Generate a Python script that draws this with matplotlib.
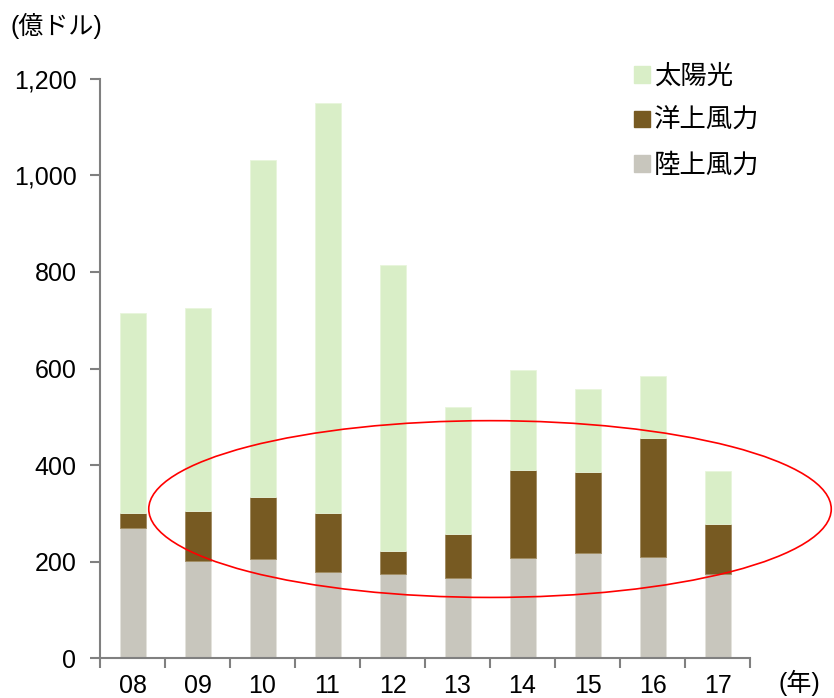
import matplotlib
matplotlib.use("Agg")
import matplotlib.pyplot as plt
from matplotlib.patches import Ellipse, Patch
import numpy as np

plt.rcParams['font.family'] = ['Liberation Sans', 'Noto Sans CJK JP']

years = ["08", "09", "10", "11", "12", "13", "14", "15", "16", "17"]
onshore = [269, 201, 206, 179, 175, 166, 208, 217, 210, 175]
offshore = [32, 105, 128, 122, 47, 91, 182, 169, 246, 103]
solar = [413, 420, 698, 849, 592, 263, 207, 172, 129, 110]

c_solar = "#d9eec7"
c_off = "#775a22"
c_on = "#c8c6bd"

fig = plt.figure(figsize=(8.34, 6.98), dpi=100)
ax = fig.add_axes([100 / 834, 39.7 / 698, 650 / 834, 579.6 / 698])

x = np.arange(len(years))
on = np.array(onshore)
off = np.array(offshore)
ax.bar(x, on, 0.4, color=c_on, edgecolor="#e4e2dc", linewidth=0.6)
ax.bar(x, off, 0.4, bottom=on, color=c_off, edgecolor="#a08a60", linewidth=0.6)
ax.bar(x, solar, 0.4, bottom=on + off, color=c_solar, edgecolor="#e8f5dc", linewidth=0.6)

ax.set_xlim(-0.5, len(years) - 0.5)
ax.set_ylim(0, 1200)
ax.set_yticks(range(0, 1201, 200))
ax.set_yticklabels(["0", "200", "400", "600", "800", "1,000", "1,200"], fontsize=18)

ax.set_xticks(x)
ax.set_xticklabels(years, fontsize=18)
ax.set_xticks(np.arange(-0.5, len(years)), minor=True)
ax.tick_params(axis="x", which="major", length=0, pad=11)
ax.tick_params(axis="x", which="minor", length=7, width=1.5, color="#808080")
ax.tick_params(axis="y", length=7, width=1.5, color="#808080", pad=10)

for s in ["top", "right"]:
    ax.spines[s].set_visible(False)
for s in ["left", "bottom"]:
    ax.spines[s].set_color("#808080")
    ax.spines[s].set_linewidth(1.5)

ell = Ellipse((5.5, 309), 10.5, 366, fill=False, edgecolor="red", linewidth=1.2, clip_on=False)
ax.add_patch(ell)

handles = [Patch(color=c_solar), Patch(color=c_off), Patch(color=c_on)]
ax.legend(handles, ["太陽光", "洋上風力", "陸上風力"], loc="upper left",
          bbox_to_anchor=(0.785, 1.065), frameon=False, fontsize=19,
          handlelength=0.6, handleheight=0.6, handletextpad=0.15, labelspacing=0.75)

fig.text(10 / 834, 1 - 26 / 698, "(億ドル)", fontsize=18, va="center", ha="left")
fig.text(778 / 834, 1 - 683 / 698, "(年)", fontsize=18, va="center", ha="left")

fig.savefig("out.png", dpi=100)
